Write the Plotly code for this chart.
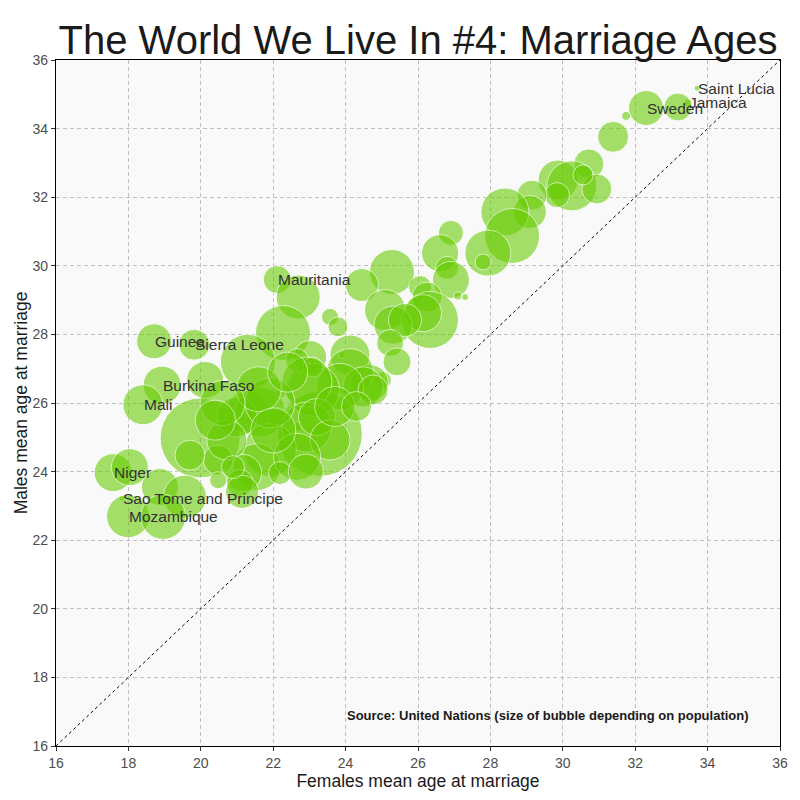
import plotly.graph_objects as go

# bubble data (ages in years, population in millions-ish units)
country = [
    "China", "India",
    "Guinea", "Sierra Leone", "Burkina Faso", "Mali", "Niger",
    "Sao Tome and Principe", "Mozambique", "Mauritania",
    "Sweden", "Jamaica", "Saint Lucia",
    "", "", "", "", "", "", "", "", "", "",
    "", "", "", "", "", "", "", "", "", "",
    "", "", "", "", "", "", "", "", "", "",
    "", "", "", "", "", "", "", "", "", "",
    "", "", "", "", "", "", "", "", "", "",
    "", "", "", "", "", "", "", "", "", "",
    "", "", "", "", "", "", "", "", "", "",
    "", "", "", "", "", "", "", "", "", "",
]

# only these countries get a text label in the chart
labelled = [
    "Guinea", "Sierra Leone", "Burkina Faso", "Mali", "Niger",
    "Sao Tome and Principe", "Mozambique", "Mauritania",
    "Sweden", "Jamaica", "Saint Lucia",
]

female_age = [
    23.29, 19.98,
    18.71, 19.82, 18.93, 18.40, 17.58,
    17.82, 17.99, 22.11,
    32.30, 33.46, 33.71,
    33.18, 31.75, 31.39, 30.72, 29.87, 30.25, 30.94, 29.84, 30.56, 29.15,
    29.09, 28.40, 28.60, 27.93, 27.80, 26.91, 26.61, 26.80, 26.91, 27.30,
    27.10, 25.28, 24.45, 25.09, 26.06, 26.25, 26.33, 26.14, 25.31, 25.64,
    25.23, 25.42, 25.03, 22.69, 23.57, 23.79, 22.27, 24.12, 23.90, 24.67,
    23.02, 21.30, 24.12, 24.48, 23.85, 23.10, 22.66, 23.10, 22.93, 20.12,
    21.30, 21.64, 21.00, 22.10, 22.19, 22.66, 22.93, 23.21, 23.57, 21.91,
    21.55, 22.66, 21.17, 22.19, 24.76, 20.48, 21.08, 21.14, 19.70, 20.72,
    20.89, 20.48, 21.91, 18.87, 19.56, 18.04, 18.96,
    21.60, 22.40, 20.60, 22.00, 22.90, 23.70, 24.30, 20.40,
]

male_age = [
    25.10, 24.98,
    27.80, 27.70, 26.52, 25.95, 23.97,
    23.23, 22.70, 29.60,
    34.60, 34.75, 35.18,
    34.63, 34.37, 33.76, 32.97, 32.50, 32.33, 32.24, 32.06, 32.65, 32.06,
    31.57, 31.57, 30.87, 30.37, 30.11, 30.96, 30.37, 29.94, 29.59, 29.09,
    29.12, 29.82, 29.44, 28.71, 29.38, 29.09, 28.42, 28.62, 28.27, 28.42,
    27.75, 27.20, 26.67, 29.09, 28.51, 28.22, 28.04, 27.40, 27.40, 26.58,
    27.34, 27.20, 26.90, 26.47, 26.47, 26.38, 27.25, 27.05, 26.61, 26.67,
    25.74, 25.74, 25.59, 25.59, 26.29, 25.30, 25.30, 25.59, 24.92, 24.63,
    24.13, 24.43, 23.96, 23.96, 26.38, 24.34, 23.67, 23.41, 24.48, 24.92,
    24.13, 23.75, 26.00, 23.55, 23.27, 24.13, 22.68,
    26.40, 26.90, 26.00, 25.20, 24.00, 25.90, 25.90, 25.50,
]

population = [
    1340, 1187,
    227, 178, 268, 297, 268,
    3, 343, 145,
    227, 12, 5,
    145, 15, 178, 167, 297, 464, 167, 116, 74, 167,
    202, 427, 561, 393, 47, 116, 254, 98, 254, 9,
    12, 376, 202, 312, 98, 167, 603, 254, 268, 202,
    135, 145, 54, 359, 54, 74, 561, 297, 9, 254,
    202, 561, 410, 297, 410, 521, 98, 74, 464, 254,
    343, 464, 297, 74, 19, 19, 464, 254, 297, 521,
    410, 410, 254, 98, 167, 167, 135, 202, 167, 297,
    98, 54, 464, 254, 343, 254, 376,
    376, 297, 376, 376, 227, 297, 167, 297,
]

axis_ticks = [16, 18, 20, 22, 24, 26, 28, 30, 32, 34, 36]

font_family = "Liberation Sans, Arial, sans-serif"

fig = go.Figure()

# equal-age reference line
fig.add_trace(go.Scatter(
    x=[axis_ticks[0], axis_ticks[-1]],
    y=[axis_ticks[0], axis_ticks[-1]],
    mode="lines",
    line=dict(color="black", width=1, dash="3px,3px"),
    hoverinfo="skip",
    showlegend=False,
))

fig.add_trace(go.Scatter(
    x=female_age,
    y=male_age,
    mode="markers",
    text=country,
    marker=dict(
        size=population,
        sizemode="area",
        sizeref=2 * max(population) / (85 ** 2),
        sizemin=3,
        color="#66cc00",
        opacity=0.58,
        line=dict(color="white", width=1),
    ),
    hovertemplate="%{text}<br>F: %{x}<br>M: %{y}<extra></extra>",
    showlegend=False,
))

# country labels, left-aligned at the bubble centre
for name, fx, my in zip(country, female_age, male_age):
    if name in labelled:
        fig.add_annotation(
            x=fx, y=my, text=name, showarrow=False,
            xanchor="left", yanchor="middle", xshift=-1,
            font=dict(size=15.5, color="#333333", family=font_family),
        )

fig.add_annotation(
    x=29.6, y=16.9,
    text="<b>Source: United Nations (size of bubble depending on population)</b>",
    showarrow=False, xanchor="center", yanchor="middle",
    font=dict(size=13, color="#1a1a1a", family=font_family),
)

axis_style = dict(
    range=[axis_ticks[0], axis_ticks[-1]],
    tickvals=axis_ticks,
    showgrid=True,
    gridcolor="#c0c0c0",
    griddash="4px,3px",
    gridwidth=1,
    zeroline=False,
    showline=True,
    linecolor="black",
    linewidth=1.2,
    mirror=True,
    ticks="outside",
    ticklen=4,
    tickcolor="#333333",
    tickfont=dict(size=14, color="#4d4d4d", family=font_family),
)

fig.update_xaxes(
    **axis_style,
    title=dict(text="Females mean age at marriage", standoff=4,
               font=dict(size=17.5, color="#1a1a1a", family=font_family)),
)
fig.update_yaxes(
    **axis_style,
    title=dict(text="Males mean age at marriage", standoff=0,
               font=dict(size=17.5, color="#1a1a1a", family=font_family)),
)

fig.update_layout(
    width=800,
    height=800,
    margin=dict(l=48, r=28, t=52, b=62),
    paper_bgcolor="white",
    plot_bgcolor="#f9f9f9",
    font=dict(family=font_family),
    title=dict(
        text="The World We Live In #4: Marriage Ages",
        x=0.5, xref="paper", xanchor="center",
        y=0.96, yref="container", yanchor="middle",
        font=dict(size=40, color="#1a1a1a", family=font_family),
    ),
)

fig.write_html("out.html")
